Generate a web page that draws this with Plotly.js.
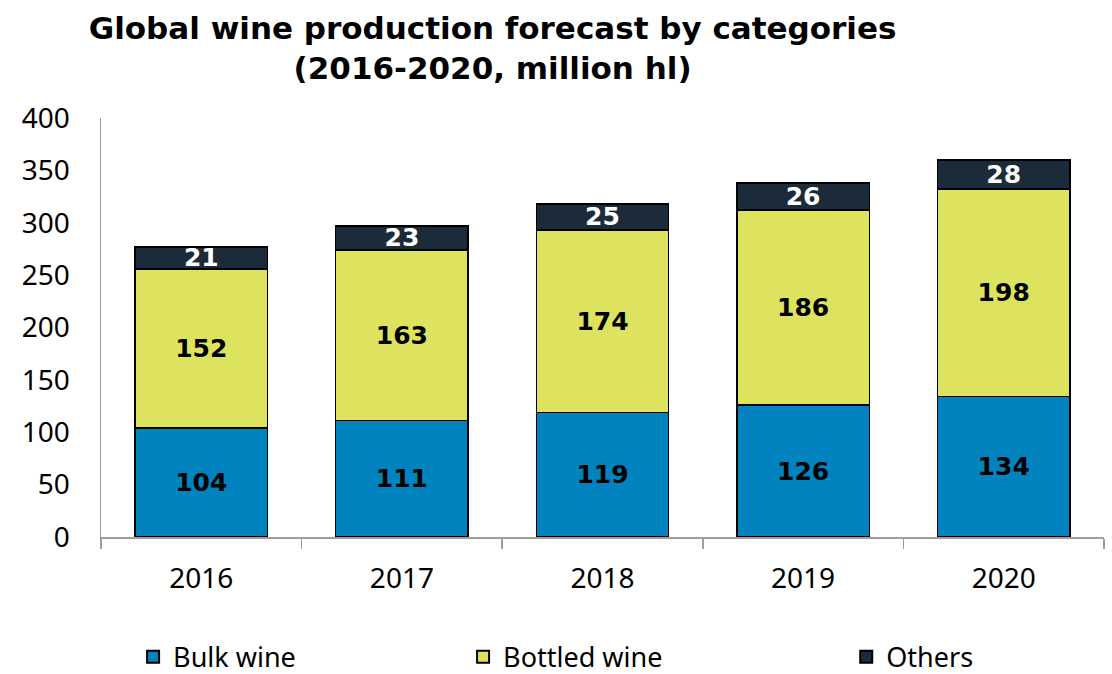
<!DOCTYPE html>
<html>
<head>
<meta charset="utf-8">
<script src="https://cdn.plot.ly/plotly-3.0.1.min.js"></script>
<style>html,body{margin:0;padding:0;background:#fff;}#chart{width:1112px;height:674px;}</style>
</head>
<body>
<div id="chart"></div>
<script>
const years = ['2016', '2017', '2018', '2019', '2020'];
const bulkWine = [104, 111, 119, 126, 134];
const bottledWine = [152, 163, 174, 186, 198];
const others = [21, 23, 25, 26, 28];
const seriesNames = ['Bulk wine', 'Bottled wine', 'Others'];
const yTicks = [0, 50, 100, 150, 200, 250, 300, 350, 400];

const colors = ['#0083BE', '#DDE35F', '#1C2B39'];
const textColors = ['#000000', '#000000', '#FFFFFF'];
const seriesData = [bulkWine, bottledWine, others];
const legendIds = ['legend', 'legend2', 'legend3'];

const traces = seriesData.map((vals, i) => ({
  type: 'bar',
  name: seriesNames[i],
  x: years,
  y: vals,
  text: vals.map(String),
  textposition: 'inside',
  insidetextanchor: 'middle',
  constraintext: 'none',
  textangle: 0,
  textfont: {family: 'DejaVu Sans', size: 25, color: textColors[i], weight: 'bold'},
  marker: {color: colors[i], line: {color: '#000000', width: 1.5}},
  legend: legendIds[i],
  hoverinfo: 'skip'
}));

const legendBase = {
  orientation: 'h',
  yanchor: 'middle',
  y: -0.287,
  xanchor: 'left',
  font: {family: 'Noto Sans', size: 27, color: '#000'},
  bgcolor: 'rgba(0,0,0,0)',
  borderwidth: 0,
  itemsizing: 'constant'
};

const layout = {
  width: 1112,
  height: 674,
  margin: {l: 101, r: 8, t: 118, b: 137, autoexpand: false},
  paper_bgcolor: '#fff',
  plot_bgcolor: '#fff',
  barmode: 'stack',
  bargap: 0.34,
  showlegend: true,
  title: {
    text: '<b>Global wine production forecast by categories<br>(2016-2020, million hl)</b>',
    font: {family: 'DejaVu Sans', size: 31, color: '#000'},
    x: 0.443, xref: 'container', xanchor: 'center',
    y: 0.942, yref: 'container', yanchor: 'top'
  },
  xaxis: {
    type: 'category',
    showgrid: false,
    showline: true, linecolor: '#9e9e9e', linewidth: 1.5,
    ticks: 'outside', tickson: 'boundaries', ticklen: 10, tickcolor: '#9e9e9e', tickwidth: 1.5,
    ticklabelstandoff: 16,
    tickfont: {family: 'Noto Sans', size: 28, color: '#000'},
    zeroline: false
  },
  yaxis: {
    range: [0, 400],
    tickvals: yTicks,
    ticktext: yTicks.map(String),
    showgrid: false,
    showline: true, linecolor: '#9e9e9e', linewidth: 1.5,
    ticks: '',
    ticklabelstandoff: 24,
    tickfont: {family: 'Noto Sans', size: 28, color: '#000'},
    zeroline: false
  },
  legend: Object.assign({}, legendBase, {x: 0.032}),
  legend2: Object.assign({}, legendBase, {x: 0.361}),
  legend3: Object.assign({}, legendBase, {x: 0.743})
};

Plotly.newPlot('chart', traces, layout, {displayModeBar: false, staticPlot: true});
</script>
</body>
</html>
